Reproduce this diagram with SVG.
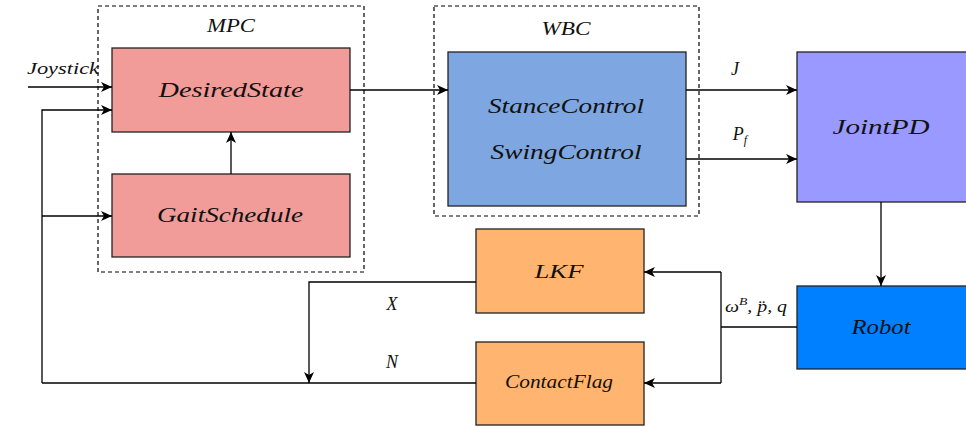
<svg xmlns="http://www.w3.org/2000/svg" width="966" height="427" viewBox="0 0 966 427">
<style>
.box{stroke:#222;stroke-width:1.3}
.dash{fill:none;stroke:#000;stroke-width:1.2;stroke-dasharray:4 3}
.t{font-family:"Liberation Serif","DejaVu Serif",serif;font-style:italic;fill:#111;text-anchor:middle}
.big{font-size:22px}
.mid{font-size:18px}
.sm{font-size:16px}
.ln{fill:none;stroke:#000;stroke-width:1.3}
</style>
<defs>
<marker id="arr" markerUnits="userSpaceOnUse" markerWidth="12" markerHeight="10" refX="11" refY="5" orient="auto">
<path d="M0,0 L11,5 L0,10 L3,5 z" fill="#000"/>
</marker>
</defs>
<rect width="966" height="427" fill="#fff"/>

<g id="mpc">
<rect class="dash" x="98" y="6" width="266" height="266"/>
<text class="t mid" x="231" y="32" textLength="48" lengthAdjust="spacingAndGlyphs">MPC</text>
</g>
<g id="wbc">
<rect class="dash" x="434" y="6" width="265" height="210"/>
<text class="t mid" x="566" y="35" textLength="49" lengthAdjust="spacingAndGlyphs">WBC</text>
</g>

<g id="desiredstate">
<rect class="box" x="112" y="48" width="238" height="84" fill="#F19C99"/>
<text class="t big" x="231" y="97" textLength="145" lengthAdjust="spacingAndGlyphs">DesiredState</text>
</g>
<g id="gaitschedule">
<rect class="box" x="112" y="174" width="238" height="83" fill="#F19C99"/>
<text class="t big" x="230" y="222" textLength="146" lengthAdjust="spacingAndGlyphs">GaitSchedule</text>
</g>
<g id="wbcblock">
<rect class="box" x="448" y="52" width="238" height="154" fill="#7EA6E0"/>
<text class="t big" x="566" y="113" textLength="156" lengthAdjust="spacingAndGlyphs">StanceControl</text>
<text class="t big" x="566" y="159" textLength="151" lengthAdjust="spacingAndGlyphs">SwingControl</text>
</g>
<g id="jointpd">
<rect class="box" x="797" y="52" width="170" height="150" fill="#9999FF"/>
<text class="t big" x="881" y="134" textLength="97" lengthAdjust="spacingAndGlyphs">JointPD</text>
</g>
<g id="robot">
<rect class="box" x="797" y="286" width="170" height="83" fill="#007FFF"/>
<text class="t big" x="881" y="334" textLength="59" lengthAdjust="spacingAndGlyphs">Robot</text>
</g>
<g id="lkf">
<rect class="box" x="476" y="229" width="168" height="84" fill="#FFB570"/>
<text class="t mid" x="559" y="278" textLength="49" lengthAdjust="spacingAndGlyphs">LKF</text>
</g>
<g id="contactflag">
<rect class="box" x="476" y="342" width="168" height="83" fill="#FFB570"/>
<text class="t mid" x="559" y="388" textLength="108" lengthAdjust="spacingAndGlyphs">ContactFlag</text>
</g>

<g id="connectors">
<path class="ln" d="M28,87 L112,87" marker-end="url(#arr)"/>
<path class="ln" d="M42,383 L42,110 L112,110" marker-end="url(#arr)"/>
<path class="ln" d="M42,216 L112,216" marker-end="url(#arr)"/>
<path class="ln" d="M231,174 L231,132" marker-end="url(#arr)"/>
<path class="ln" d="M350,90 L448,90" marker-end="url(#arr)"/>
<path class="ln" d="M686,90 L797,90" marker-end="url(#arr)"/>
<path class="ln" d="M686,159 L797,159" marker-end="url(#arr)"/>
<path class="ln" d="M881,202 L881,286" marker-end="url(#arr)"/>
<path class="ln" d="M797,327 L721,327"/>
<path class="ln" d="M721,272 L721,383"/>
<path class="ln" d="M721,272 L644,272" marker-end="url(#arr)"/>
<path class="ln" d="M721,383 L644,383" marker-end="url(#arr)"/>
<path class="ln" d="M476,282 L309,282 L309,383" marker-end="url(#arr)"/>
<path class="ln" d="M476,383 L42,383"/>
</g>

<g id="labels">
<text class="t sm" x="63" y="74" textLength="72" lengthAdjust="spacingAndGlyphs">Joystick</text>
<text class="t mid" x="735" y="75">J</text>
<text class="t mid" x="740" y="140">P<tspan font-size="12" dy="4">f</tspan></text>
<text class="t sm" x="756" y="312" textLength="62" lengthAdjust="spacingAndGlyphs">ω<tspan font-size="11" dy="-7">B</tspan><tspan dy="7">, p̈, q</tspan></text>
<text class="t mid" x="392" y="310">X</text>
<text class="t mid" x="392" y="368">N</text>
</g>
</svg>
